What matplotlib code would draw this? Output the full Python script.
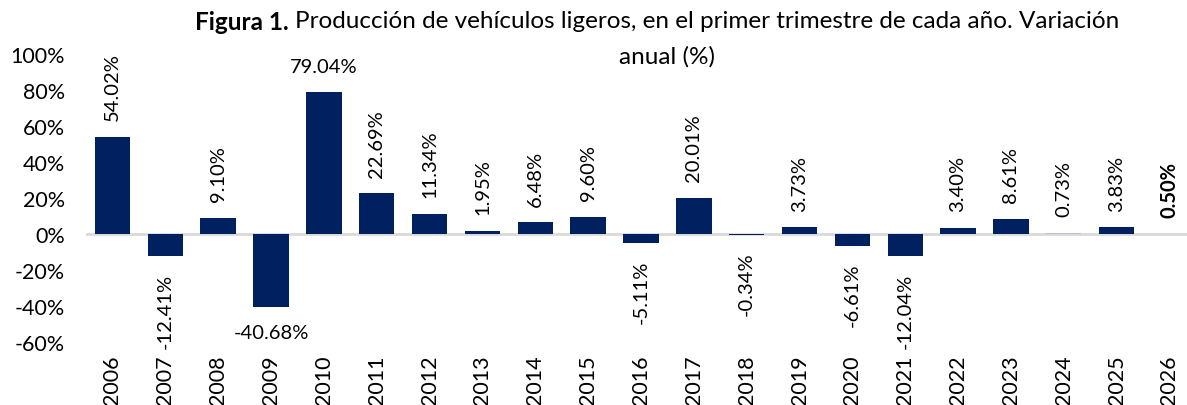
import matplotlib.pyplot as plt

plt.rcParams["font.family"] = ["Lato", "DejaVu Sans"]

anios = [str(a) for a in range(2006, 2027)]
variacion = [54.02, -12.41, 9.10, -40.68, 79.04, 22.69, 11.34, 1.95, 6.48, 9.60,
             -5.11, 20.01, -0.34, 3.73, -6.61, -12.04, 3.40, 8.61, 0.73, 3.83, 0.50]
etiquetas = ["54.02%", "-12.41%", "9.10%", "-40.68%", "79.04%", "22.69%", "11.34%",
             "1.95%", "6.48%", "9.60%", "-5.11%", "20.01%", "-0.34%", "3.73%",
             "-6.61%", "-12.04%", "3.40%", "8.61%", "0.73%", "3.83%", "0.50%"]
yticks = [-60, -40, -20, 0, 20, 40, 60, 80, 100]

azul = "#002060"
colores = [azul] * len(anios)
colores[18] = "#B4C2DE"  # 2024 en tono claro
colores[20] = "none"     # 2026 sin barra visible

fig = plt.figure(figsize=(11.87, 4.06), dpi=100)
ax = fig.add_axes([0.0725, 0.155, 0.935, 0.709])

x = range(len(anios))
ax.bar(x, variacion, width=0.67, color=colores, zorder=2)
ax.axhline(0, color="#D9D9D9", lw=2, zorder=1)

for i, (v, txt) in enumerate(zip(variacion, etiquetas)):
    horizontal = anios[i] in ("2009", "2010")
    peso = "bold" if anios[i] == "2026" else "normal"
    dy = 12 if v >= 0 else -12
    ax.annotate(txt, (i, v), xytext=(0, dy), textcoords="offset points",
                ha="center", va="bottom" if v >= 0 else "top",
                rotation=0 if horizontal else 90, fontsize=14.5,
                fontweight=peso, color="black")

ax.set_xlim(-0.5, len(anios) - 0.5)
ax.set_ylim(-60, 100)
ax.set_yticks(yticks)
ax.set_yticklabels([f"{t}%" for t in yticks], fontsize=15.5)
ax.set_xticks(list(x))
ax.set_xticklabels(anios, rotation=90, fontsize=15.5)
ax.tick_params(length=0)
ax.tick_params(axis="x", pad=9)
ax.tick_params(axis="y", pad=15)
for s in ax.spines.values():
    s.set_visible(False)

# titulo: parte en negrita y resto normal
t1 = fig.text(195 / 1187, 1 - 22 / 406, "Figura 1.", fontweight="bold",
              fontsize=17.5, ha="left", va="center")
fig.canvas.draw()
bb = t1.get_window_extent()
fig.text(bb.x1 / 1187 + 0.005, 1 - 22 / 406,
         "Producción de vehículos ligeros, en el primer trimestre de cada año. Variación",
         fontsize=17.5, ha="left", va="center")
fig.text(667 / 1187, 1 - 57 / 406, "anual (%)", fontsize=17.5, ha="center", va="center")

fig.savefig("out.png", dpi=100)
